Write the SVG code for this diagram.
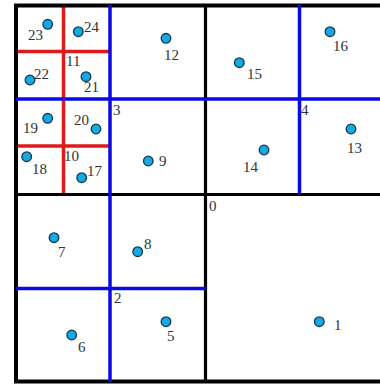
<svg xmlns="http://www.w3.org/2000/svg" width="380" height="384" viewBox="0 0 380 384">
<style>
.blk{stroke:#000;fill:none}
.blu{stroke:#0a0ae6;stroke-width:3.5;fill:none}
.red{stroke:#e01a1a;stroke-width:3.5;fill:none}
.pt{fill:#16a9e6;stroke:#12384d;stroke-width:1.3}
text{font-family:"Liberation Serif","Times New Roman",serif;font-size:15px;fill:#333}
</style>
<rect width="380" height="384" fill="#fff"/>
<g id="red-lines">
<line class="red" x1="63.5" y1="6" x2="63.5" y2="194"/>
<line class="red" x1="16" y1="51.5" x2="110" y2="51.5"/>
<line class="red" x1="16" y1="146" x2="110" y2="146"/>
</g>
<g id="black-lines">
<rect class="blk" x="16" y="5.5" width="380" height="376" stroke-width="4"/>
<line class="blk" x1="205.5" y1="5" x2="205.5" y2="382" stroke-width="3.2"/>
<line class="blk" x1="16" y1="194.5" x2="380" y2="194.5" stroke-width="3.2"/>
</g>
<g id="blue-lines">
<line class="blu" x1="110" y1="5" x2="110" y2="382"/>
<line class="blu" x1="16" y1="99" x2="380" y2="99" stroke-width="3"/>
<line class="blu" x1="299.5" y1="5" x2="299.5" y2="194"/>
<line class="blu" x1="16" y1="288.5" x2="206" y2="288.5" stroke-width="3"/>
</g>
<g id="split-labels">
<text x="66" y="66">11</text>
<text x="64" y="161">10</text>
<text x="113" y="115">3</text>
<text x="301" y="115">4</text>
<text x="209" y="211">0</text>
<text x="114" y="303">2</text>
</g>
<g id="p23"><circle class="pt" cx="47.7" cy="24.3" r="4.8"/><text x="28" y="40">23</text></g>
<g id="p24"><circle class="pt" cx="78.3" cy="31.7" r="4.8"/><text x="84" y="32">24</text></g>
<g id="p22"><circle class="pt" cx="30" cy="80" r="4.8"/><text x="34" y="79">22</text></g>
<g id="p21"><circle class="pt" cx="86" cy="76.7" r="4.8"/><text x="84" y="92">21</text></g>
<g id="p19"><circle class="pt" cx="47.7" cy="118.3" r="4.8"/><text x="23" y="133">19</text></g>
<g id="p20"><circle class="pt" cx="96" cy="129" r="4.8"/><text x="74" y="125">20</text></g>
<g id="p18"><circle class="pt" cx="26.7" cy="156.7" r="4.8"/><text x="32" y="174">18</text></g>
<g id="p17"><circle class="pt" cx="81.7" cy="177.7" r="4.8"/><text x="87" y="176">17</text></g>
<g id="p12"><circle class="pt" cx="166" cy="38.3" r="4.8"/><text x="164" y="60">12</text></g>
<g id="p9"><circle class="pt" cx="148.3" cy="161" r="4.8"/><text x="159" y="166">9</text></g>
<g id="p15"><circle class="pt" cx="239.3" cy="62.7" r="4.8"/><text x="247" y="79">15</text></g>
<g id="p16"><circle class="pt" cx="330" cy="31.7" r="4.8"/><text x="333" y="51">16</text></g>
<g id="p14"><circle class="pt" cx="264" cy="150" r="4.8"/><text x="243" y="172">14</text></g>
<g id="p13"><circle class="pt" cx="351" cy="129" r="4.8"/><text x="347" y="153">13</text></g>
<g id="p7"><circle class="pt" cx="54" cy="237.7" r="4.8"/><text x="58" y="257">7</text></g>
<g id="p8"><circle class="pt" cx="137.7" cy="251.7" r="4.8"/><text x="144" y="249">8</text></g>
<g id="p6"><circle class="pt" cx="71.7" cy="335" r="4.8"/><text x="78" y="352">6</text></g>
<g id="p5"><circle class="pt" cx="166" cy="321.7" r="4.8"/><text x="167" y="341">5</text></g>
<g id="p1"><circle class="pt" cx="319.3" cy="321.7" r="4.8"/><text x="334" y="330">1</text></g>
</svg>
